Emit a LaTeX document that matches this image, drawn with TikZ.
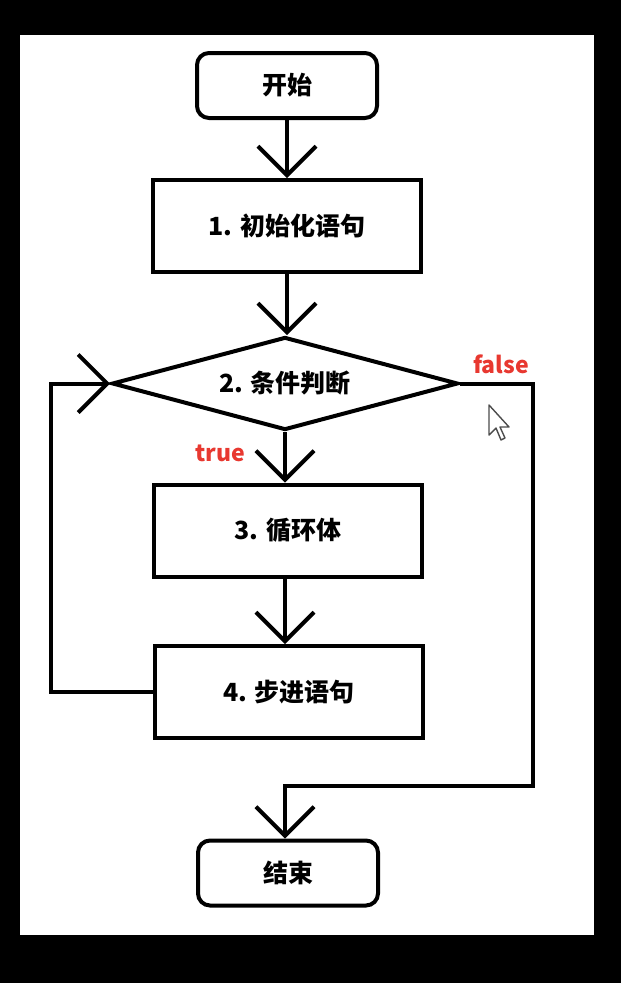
\documentclass[tikz,border=0pt]{standalone}
\usepackage{fontspec}
\setmainfont{Noto Sans CJK SC}
\usetikzlibrary{arrows.meta,shapes.geometric}
\definecolor{lblred}{RGB}{232,56,48}
\begin{document}
\begin{tikzpicture}[x=1pt,y=-1pt,line width=4pt,
  every node/.style={font=\fontsize{25}{30}\selectfont\bfseries},
  term/.style={draw,rounded corners=12pt,minimum width=180pt,minimum height=65pt,inner sep=0pt},
  proc/.style={draw,minimum width=268pt,minimum height=92pt,inner sep=0pt},
  cond/.style={draw,diamond,aspect=3.7,minimum width=346pt,minimum height=93pt,inner sep=0pt},
  vee/.style={-{Straight Barb[length=29pt,width=58pt]}},
  lbl/.style={text=lblred,font=\fontsize{23}{26}\selectfont\bfseries,inner sep=0pt}]
\useasboundingbox (0,0) rectangle (621,983);
\fill[black] (0,0) rectangle (621,983);
\fill[white] (20,35) rectangle (594,935);
\node[term] (s) at (287,85.5) {开始};
\node[proc] (b1) at (287,226) {1. 初始化语句};
\node[cond] (d) at (285,383.5) {2. 条件判断};
\node[proc] (b3) at (288,530.5) {3. 循环体};
\node[proc] (b4) at (289,692) {4. 步进语句};
\node[term] (e) at (288,873) {结束};
\coordinate (fc) at (533,786);
\draw[vee] (s.south) -- (s.south |- b1.north);
\draw[vee] (b1.south) -- (b1.south |- d.north);
\draw[vee] (d.south) -- (d.south |- b3.north);
\draw[vee] (b3.south -| d.south) -- (d.south |- b4.north);
\draw[vee] (b4.west) -- ++(-102,0) |- (d.west);
\draw[vee,line join=miter] (d.east) -| (fc) -| (e.north -| d.south);
\node[lbl] (lf) at (501,364) {false};
\node[lbl] (lt) at (220,453) {true};
\draw[line width=1.4pt,draw=black!70,fill=white,line join=round]
  (489,405) -- ++(0,30) -- ++(7,-7) -- ++(5,12) -- ++(4,-2) -- ++(-5,-11) -- ++(9,0) -- cycle;
\end{tikzpicture}
\end{document}
